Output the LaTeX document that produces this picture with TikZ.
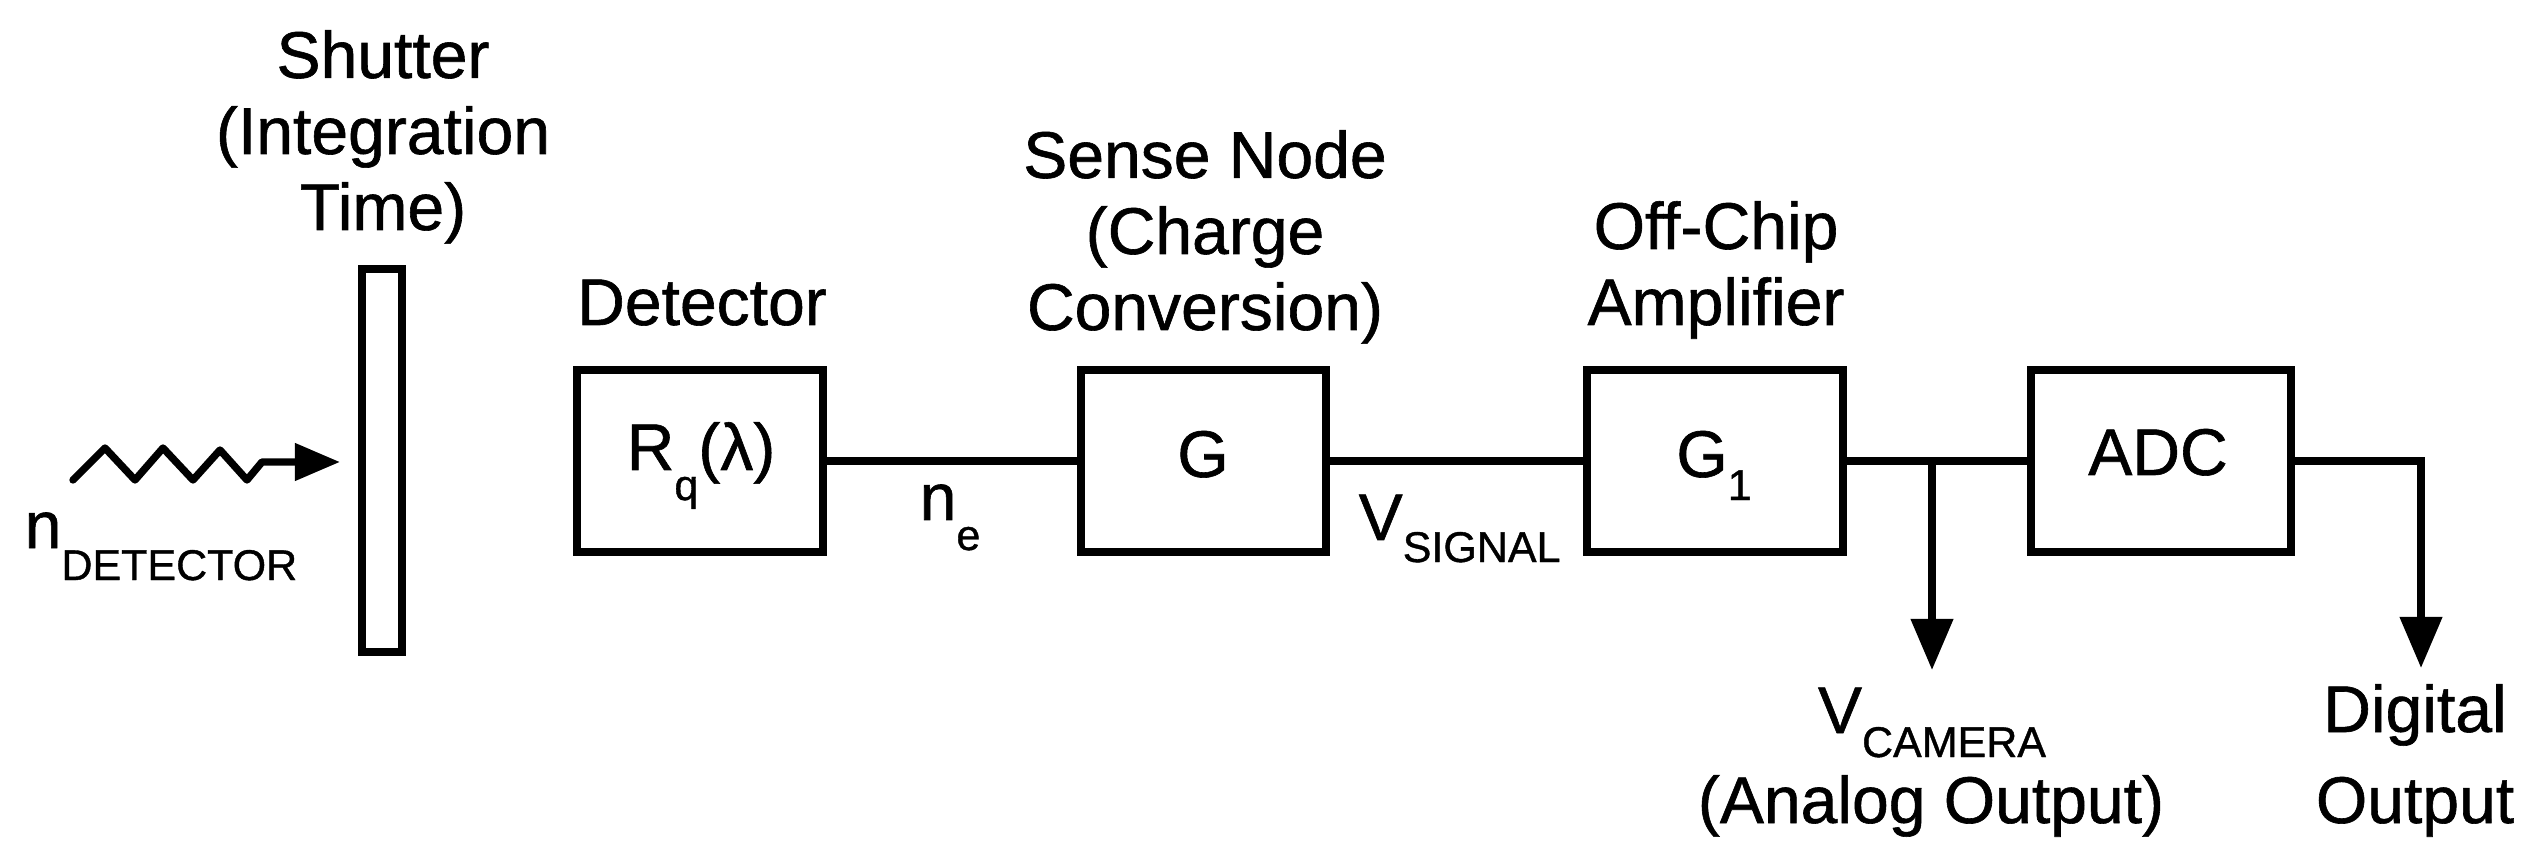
\documentclass[tikz,border=0pt]{standalone}
\usepackage{fontspec}
\setmainfont[FakeBold=0.9]{Liberation Sans}
\usetikzlibrary{arrows.meta}
\newcommand{\mainfs}{\fontsize{18.78}{21.62}\selectfont}
\newcommand{\subfs}{\fontsize{12.23}{14}\selectfont}
\newcommand{\lbl}[1]{\begin{tabular}[b]{@{}c@{}}#1\end{tabular}}
\newcommand{\sbx}[2]{\raisebox{-#1cm}{\subfs #2}}
\begin{document}
\begin{tikzpicture}[x=0.01cm,y=-0.01cm,
  box/.style={draw,line width=2.25pt,minimum height=1.815cm,inner sep=0pt,anchor=center},
  txt/.style={inner sep=0pt,font=\mainfs},
  conn/.style={line width=2.1pt},
  outarrow/.style={conn,-{Triangle[length=0.51cm,width=0.41cm]}},
  photon/.style={line width=2.1pt,line join=round,line cap=round,-{Triangle[length=0.45cm,width=0.36cm]}}]
\useasboundingbox (0,0) rectangle (2530,852);

% blocks
\node[box,minimum width=0.405cm,minimum height=3.835cm] (shutter) at (382,460.5) {};
\node[box,minimum width=2.465cm] (det) at (700,461) {};
\node[box,minimum width=2.455cm] (sn) at (1203.5,461) {};
\node[box,minimum width=2.565cm] (amp) at (1715,461) {};
\node[box,minimum width=2.605cm] (adc) at (2161,461) {};

% block contents
\node[txt,anchor=base] (detin) at (701,470) {R\sbx{0.30}{q}(λ)};
\node[txt,anchor=base] (snin) at (1203,477) {G};
\node[txt,anchor=base] (ampin) at (1714,477) {G\sbx{0.23}{1}};
\node[txt,anchor=base] (adcin) at (2158,475) {ADC};

% labels above
\node[txt,anchor=base] (shutlbl) at (383,230) {\lbl{Shutter\\(Integration\\Time)}};
\node[txt,anchor=base] (detlbl) at (702,325) {Detector};
\node[txt,anchor=base] (snlbl) at (1205,330) {\lbl{Sense Node\\(Charge\\Conversion)}};
\node[txt,anchor=base] (amplbl) at (1716,325) {\lbl{Off-Chip\\Amplifier}};

% signal labels
\node[txt,anchor=base west] (ndet) at (24,548) {n\sbx{0.32}{DETECTOR}};
\node[txt,anchor=base west] (ne) at (919,520) {n\sbx{0.30}{e}};
\node[txt,anchor=base west] (vsig) at (1358,540) {V\sbx{0.22}{SIGNAL}};
\node[txt,anchor=base] (vcam) at (1932,733) {V\sbx{0.24}{CAMERA}};
\node[txt,anchor=base] (anout) at (1931,823) {(Analog Output)};
\node[txt,anchor=base] (digA) at (2415,732) {Digital};
\node[txt,anchor=base] (digB) at (2415,823) {Output};

% coordinates
\coordinate (zs) at (73,480);
\coordinate (ztip) at (340,462);
\coordinate (tap) at (1932,461);
\coordinate (camtip) at (1932,670);
\coordinate (dcorner) at (2421,461);
\coordinate (digtip) at (2421,668);

% photon arrow
\draw[photon] (zs) -- (105,448) -- (135,480) -- (163,448) -- (193,480) -- (220,450) -- (247,480) -- (262,462) -- (ztip);

% connectors
\draw[conn] (det.east) -- (sn.west);
\draw[conn] (sn.east) -- (amp.west);
\draw[conn] (amp.east) -- (adc.west);
\draw[outarrow] (tap) -- (camtip);
\draw[outarrow] (adc.east) -- (dcorner) -- (digtip);
\end{tikzpicture}
\end{document}
